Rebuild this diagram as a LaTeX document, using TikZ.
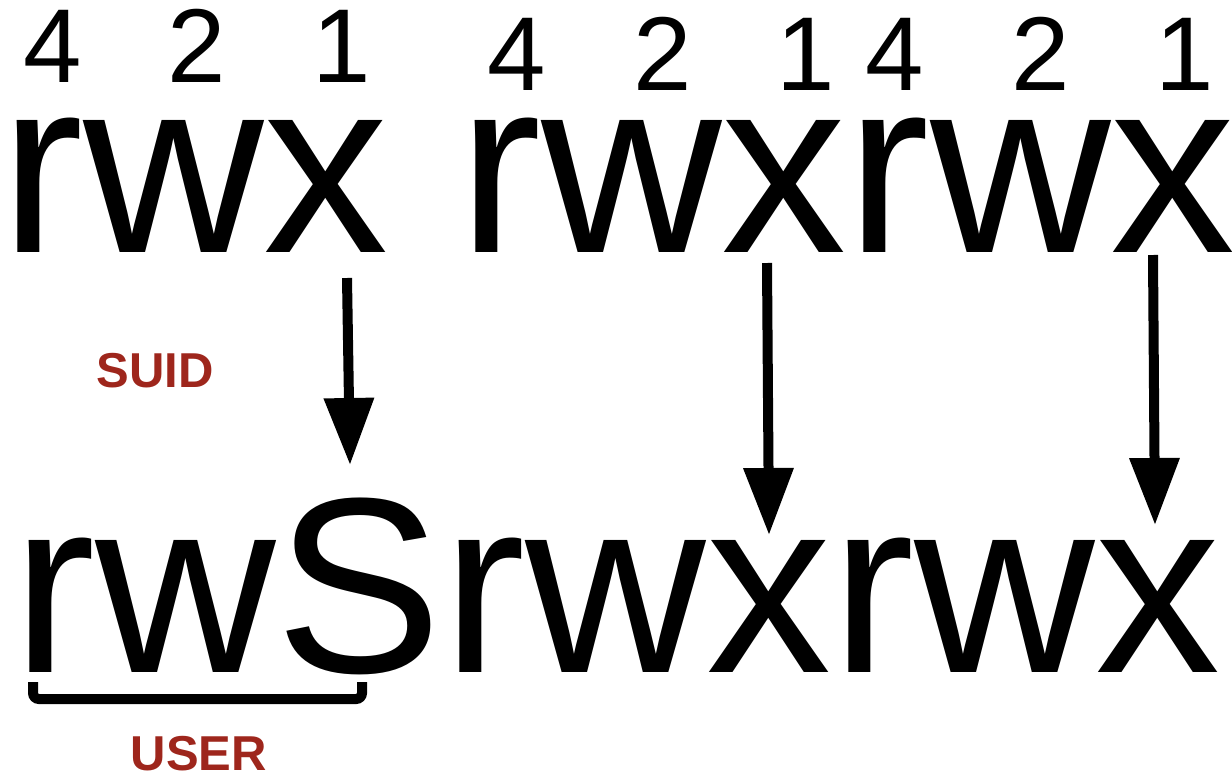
\documentclass[tikz,border=0pt]{standalone}
\usepackage{fontspec}
\setmainfont{Liberation Sans}
\usetikzlibrary{arrows.meta}
\definecolor{labelred}{RGB}{158,38,28}
\tikzset{
  big/.style={anchor=base west, inner sep=0pt, font=\fontsize{250pt}{250pt}\selectfont},
  digit/.style={anchor=base, inner sep=0pt, font=\fontsize{105pt}{105pt}\selectfont},
  tag/.style={anchor=base, inner sep=0pt, text=labelred, font=\bfseries\fontsize{49pt}{49pt}\selectfont},
  maparrow/.style={line width=10pt, -{Triangle[length=67pt,width=48pt]}},
  bracketline/.style={line width=10pt, rounded corners=6pt}
}
\begin{document}
\begin{tikzpicture}[x=1pt,y=-1pt]
\useasboundingbox (0,0) rectangle (1232,774);
% top row
\node[big] (top) at (0,252) {rwx rwxrwx};
% digits
\node[digit] (d1) at (53,82) {4};
\node[digit] (d2) at (197,82) {2};
\node[digit] (d3) at (342,82) {1};
\node[digit] (d4) at (517,90) {4};
\node[digit] (d5) at (663,90) {2};
\node[digit] (d6) at (806,90) {1};
\node[digit] (d7) at (895,90) {4};
\node[digit] (d8) at (1041,90) {2};
\node[digit] (d9) at (1185,90) {1};
% bottom row
\node[big] (bottom) at (12,672) {rwSrwxrwx};
% labels
\node[tag] (suid) at (155,387) {SUID};
\node[tag] (user) at (199,770) {USER};
% bracket
\coordinate (bl) at (33,682);
\coordinate (br) at (362,682);
\draw[bracketline] (bl) -- ++(0,17) -| (br);
% arrows
\coordinate (a1s) at (347,278);
\coordinate (a1e) at (350,465);
\coordinate (a2s) at (767,263);
\coordinate (a2e) at (769,535);
\coordinate (a3s) at (1153,255);
\coordinate (a3e) at (1155,525);
\draw[maparrow] (a1s) -- (a1e);
\draw[maparrow] (a2s) -- (a2e);
\draw[maparrow] (a3s) -- (a3e);
\end{tikzpicture}
\end{document}
